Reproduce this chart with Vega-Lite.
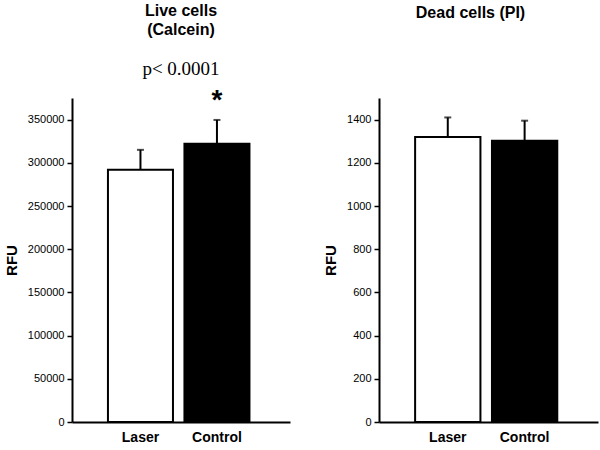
{
  "$schema": "https://vega.github.io/schema/vega-lite/v6.json",
  "background": "white",
  "padding": {"left": 4, "top": 2, "right": 3, "bottom": 3},
  "datasets": {
    "live": [
      {"group": "Laser", "value": 292000, "upper": 315000, "sig": ""},
      {"group": "Control", "value": 322000, "upper": 349600, "sig": "*"}
    ],
    "dead": [
      {"group": "Laser", "value": 1320, "upper": 1410},
      {"group": "Control", "value": 1302, "upper": 1395}
    ]
  },
  "config": {
    "view": {"stroke": null},
    "font": "Liberation Sans",
    "axis": {
      "domainColor": "black",
      "domainWidth": 2,
      "tickColor": "black",
      "tickWidth": 1.5,
      "labelColor": "black",
      "labelFont": "Liberation Sans",
      "labelFontSize": 11,
      "titleColor": "black",
      "titleFont": "Liberation Sans",
      "titleFontSize": 15,
      "titleFontWeight": "bold",
      "grid": false
    }
  },
  "spacing": 33,
  "hconcat": [
    {
      "width": 218,
      "height": 324,
      "data": {"name": "live"},
      "title": {
        "text": ["Live cells", "(Calcein)"],
        "subtitle": "p< 0.0001",
        "font": "Liberation Sans",
        "fontSize": 16,
        "fontWeight": "bold",
        "color": "black",
        "lineHeight": 19,
        "subtitleFont": "Liberation Serif",
        "subtitleFontSize": 19,
        "subtitleColor": "black",
        "subtitlePadding": 22,
        "offset": 8,
        "anchor": "middle"
      },
      "encoding": {
        "x": {
          "field": "group",
          "type": "nominal",
          "sort": ["Laser", "Control"],
          "scale": {"paddingInner": 0.15, "paddingOuter": 0.5, "align": 0.47},
          "axis": {"title": null, "ticks": false, "labelAngle": 0, "labelFontSize": 14, "labelFontWeight": "bold", "labelPadding": 8}
        }
      },
      "layer": [
        {
          "mark": {"type": "rule", "strokeWidth": 2, "color": "black"},
          "encoding": {
            "y": {
              "field": "value",
              "type": "quantitative",
              "scale": {"domain": [0, 375000], "nice": false},
              "axis": {
                "title": "RFU",
                "titlePadding": 8,
                "values": [0, 25000, 50000, 75000, 100000, 125000, 150000, 175000, 200000, 225000, 250000, 275000, 300000, 325000, 350000, 375000],
                "labelExpr": "datum.value % 50000 === 0 && datum.value < 375000 ? format(datum.value, 'd') : ''",
                "tickSize": {"condition": {"test": "datum.value % 50000 === 0 && datum.value < 375000", "value": 5}, "value": 3},
                "labelPadding": 3
              }
            },
            "y2": {"field": "upper"}
          }
        },
        {
          "mark": {"type": "bar", "stroke": "black", "strokeWidth": 2},
          "encoding": {
            "y": {"field": "value", "type": "quantitative"},
            "fill": {"field": "group", "type": "nominal", "scale": {"domain": ["Laser", "Control"], "range": ["white", "black"]}, "legend": null}
          }
        },
        {
          "mark": {"type": "tick", "thickness": 2, "size": 7, "color": "black"},
          "encoding": {"y": {"field": "upper", "type": "quantitative"}}
        },
        {
          "mark": {"type": "text", "fontSize": 28, "fontWeight": "bold", "baseline": "bottom", "dy": -5, "color": "black"},
          "encoding": {"y": {"field": "upper", "type": "quantitative"}, "text": {"field": "sig"}}
        }
      ]
    },
    {
      "width": 219,
      "height": 324,
      "data": {"name": "dead"},
      "title": {
        "text": "Dead cells (PI)",
        "font": "Liberation Sans",
        "fontSize": 16,
        "fontWeight": "bold",
        "color": "black",
        "offset": 77,
        "dx": -18,
        "anchor": "middle"
      },
      "encoding": {
        "x": {
          "field": "group",
          "type": "nominal",
          "sort": ["Laser", "Control"],
          "scale": {"paddingInner": 0.15, "paddingOuter": 0.5, "align": 0.47},
          "axis": {"title": null, "ticks": false, "labelAngle": 0, "labelFontSize": 14, "labelFontWeight": "bold", "labelPadding": 8}
        }
      },
      "layer": [
        {
          "mark": {"type": "rule", "strokeWidth": 2, "color": "black"},
          "encoding": {
            "y": {
              "field": "value",
              "type": "quantitative",
              "scale": {"domain": [0, 1500], "nice": false},
              "axis": {
                "title": "RFU",
                "titlePadding": 8,
                "values": [0, 100, 200, 300, 400, 500, 600, 700, 800, 900, 1000, 1100, 1200, 1300, 1400, 1500],
                "labelExpr": "datum.value % 200 === 0 ? format(datum.value, 'd') : ''",
                "tickSize": {"condition": {"test": "datum.value % 200 === 0", "value": 5}, "value": 3},
                "labelPadding": 3
              }
            },
            "y2": {"field": "upper"}
          }
        },
        {
          "mark": {"type": "bar", "stroke": "black", "strokeWidth": 2},
          "encoding": {
            "y": {"field": "value", "type": "quantitative"},
            "fill": {"field": "group", "type": "nominal", "scale": {"domain": ["Laser", "Control"], "range": ["white", "black"]}, "legend": null}
          }
        },
        {
          "mark": {"type": "tick", "thickness": 2, "size": 7, "color": "black"},
          "encoding": {"y": {"field": "upper", "type": "quantitative"}}
        }
      ]
    }
  ]
}
